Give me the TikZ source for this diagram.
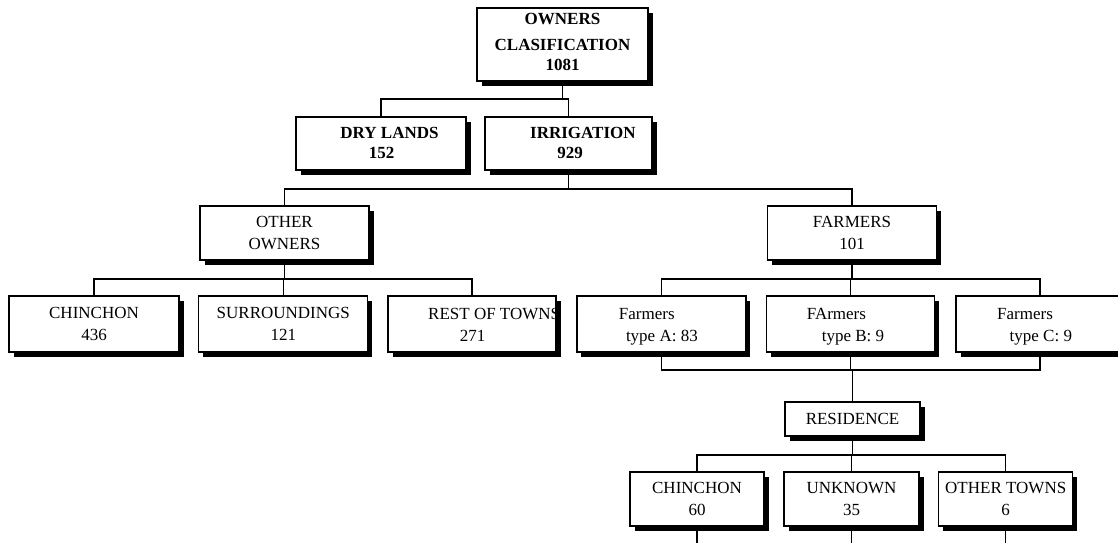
\documentclass[tikz,border=0pt]{standalone}
\usepackage{fontspec}
\setmainfont{Liberation Serif}
\usetikzlibrary{shadows}
\begin{document}
\begin{tikzpicture}[x=1pt,y=-1pt,
  box/.style={draw,line width=1.2pt,fill=white,inner sep=0pt,align=center,
    font=\fontsize{17}{22}\selectfont,
    drop shadow={shadow xshift=4.5pt,shadow yshift=-4.5pt,fill=black,opacity=1}},
  conn/.style={line width=1.5pt},
  txt/.style={inner sep=0pt,font=\fontsize{17}{22}\selectfont},
  btxt/.style={inner sep=0pt,font=\fontsize{17}{22}\selectfont\bfseries}]
\useasboundingbox (0,0) rectangle (1118,542);
\clip (0,0) rectangle (1118,542);

% level coordinates
\coordinate (h1) at (0,99);
\coordinate (h2) at (0,189);
\coordinate (h3) at (0,279);
\coordinate (h4) at (0,370);
\coordinate (h5) at (0,455);
\coordinate (hb) at (0,546);

% boxes
\node[box,minimum width=171pt,minimum height=73pt] (top) at (562.5,44.5) {};
\node[box,minimum width=170pt,minimum height=53pt] (dry) at (381,143.5) {};
\node[box,minimum width=167pt,minimum height=53pt] (irr) at (568.5,143.5) {};
\node[box,minimum width=169pt,minimum height=54pt] (oth) at (284.5,233) {OTHER\\OWNERS};
\node[box,minimum width=169pt,minimum height=54pt] (farm) at (852,233) {FARMERS\\101};
\node[box,minimum width=170pt,minimum height=56pt] (chin) at (94,324) {CHINCHON\\436};
\node[box,minimum width=169pt,minimum height=56pt] (surr) at (283.3,324) {SURROUNDINGS\\121};
\node[box,minimum width=168pt,minimum height=56pt] (rest) at (472,324) {};
\node[box,minimum width=169pt,minimum height=56pt] (ta) at (661.4,324) {};
\node[box,minimum width=168pt,minimum height=56pt] (tb) at (850.5,324) {};
\node[box,minimum width=168pt,minimum height=56pt] (tc) at (1040,324) {};
\node[box,minimum width=135pt,minimum height=34pt] (res) at (852.5,419) {RESIDENCE};
\node[box,minimum width=134pt,minimum height=54pt] (c2) at (697,499) {CHINCHON\\60};
\node[box,minimum width=135pt,minimum height=54pt] (unk) at (851.5,499) {UNKNOWN\\35};
\node[box,minimum width=134pt,minimum height=54pt] (ot) at (1005.7,499) {OTHER TOWNS\\6};

% texts placed individually
\node[btxt,anchor=base] (t1) at (562.5,24) {OWNERS};
\node[btxt,anchor=base] (t2) at (562.5,50) {CLASIFICATION};
\node[btxt,anchor=base] (t3) at (562.5,70) {1081};
\node[btxt,anchor=base] (d1) at (389.5,138.8) {DRY LANDS};
\node[btxt,anchor=base] (d2) at (381.7,158.8) {152};
\node[btxt,anchor=base west] (i1) at (530,138.8) {IRRIGATION};
\node[btxt,anchor=base] (i2) at (570,158.8) {929};
\begin{scope}
  \clip (rest.north west) rectangle (rest.south east);
  \node[txt,anchor=base west] (r1) at (428,319.5) {REST OF TOWNS};
\end{scope}
\node[txt,anchor=base] (r2) at (472.5,341.5) {271};
\node[txt,anchor=base west] (a1) at (618.7,319.5) {Farmers};
\node[txt,anchor=base west] (a2) at (625.8,341.5) {type A: 83};
\node[txt,anchor=base west] (b1) at (806.6,319.5) {FArmers};
\node[txt,anchor=base west] (b2) at (821.6,341.5) {type B: 9};
\node[txt,anchor=base west] (c1) at (997,319.5) {Farmers};
\node[txt,anchor=base west] (c3) at (1009.5,341.5) {type C: 9};

% connectors
\draw[conn] (top.south) -- (top.south |- h1);
\draw[conn] (dry.north) -- (dry.north |- h1) -- (irr.north |- h1) -- (irr.north);
\draw[conn] (irr.south) -- (irr.south |- h2);
\draw[conn] (oth.north) -- (oth.north |- h2) -- (farm.north |- h2) -- (farm.north);
\draw[conn] (oth.south) -- (oth.south |- h3);
\draw[conn] (chin.north) -- (chin.north |- h3) -- (rest.north |- h3) -- (rest.north);
\draw[conn] (surr.north) -- (surr.north |- h3);
\draw[conn] (farm.south) -- (farm.south |- h3);
\draw[conn] (ta.north) -- (ta.north |- h3) -- (tc.north |- h3) -- (tc.north);
\draw[conn] (tb.north) -- (tb.north |- h3);
\draw[conn] (ta.south) -- (ta.south |- h4) -- (tc.south |- h4) -- (tc.south);
\draw[conn] (tb.south) -- (tb.south |- h4);
\draw[conn] (res.north) -- (res.north |- h4);
\draw[conn] (res.south) -- (res.south |- h5);
\draw[conn] (c2.north) -- (c2.north |- h5) -- (ot.north |- h5) -- (ot.north);
\draw[conn] (unk.north) -- (unk.north |- h5);
\draw[conn] (c2.south) -- (c2.south |- hb);
\draw[conn] (unk.south) -- (unk.south |- hb);
\draw[conn] (ot.south) -- (ot.south |- hb);
\end{tikzpicture}
\end{document}
